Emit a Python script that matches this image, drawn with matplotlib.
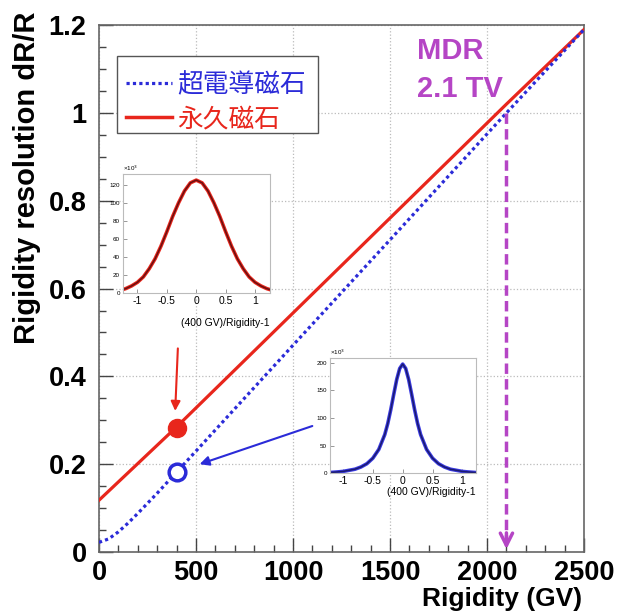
import matplotlib
matplotlib.use("Agg")
import matplotlib.pyplot as plt
from matplotlib.lines import Line2D
from matplotlib.patches import Rectangle
from matplotlib.ticker import MultipleLocator, FormatStrFormatter

# main curves
rig_perm = [0, 400, 2100, 2500]
res_perm = [0.118, 0.285, 1.02, 1.19]
rig_sc = [0, 50, 100, 150, 200, 300, 400, 500, 1000, 1500, 2000, 2100, 2500]
res_sc = [0.022, 0.030, 0.046, 0.066, 0.088, 0.134, 0.182, 0.23, 0.471, 0.711, 0.952, 1.0, 1.19]

point_rig = 400
point_perm = 0.282
point_sc = 0.182
mdr_rig = 2100
mdr_res = 1.0

legend_labels = ["超電導磁石", "永久磁石"]

# inset histograms, counts in units of 10^3
hx_perm = [-1.25, -1.2, -1.1, -1.0, -0.9, -0.8, -0.7, -0.6, -0.5, -0.4, -0.3, -0.2, -0.1, 0.0,
           0.1, 0.2, 0.3, 0.4, 0.5, 0.6, 0.7, 0.8, 0.9, 1.0, 1.1, 1.2, 1.25]
hy_perm = [4, 5, 8, 12, 18, 27, 38, 52, 68, 85, 100, 113, 122, 125,
           122, 113, 100, 85, 68, 52, 38, 27, 18, 12, 8, 5, 4]
hx_sc = [-1.22, -1.1, -1.0, -0.9, -0.8, -0.7, -0.6, -0.5, -0.4, -0.3, -0.25, -0.2, -0.15, -0.1, -0.05, 0.0,
         0.05, 0.1, 0.15, 0.2, 0.25, 0.3, 0.4, 0.5, 0.6, 0.7, 0.8, 0.9, 1.0, 1.1, 1.22]
hy_sc = [1, 2, 3, 5, 7, 11, 17, 27, 43, 70, 90, 115, 143, 170, 190, 198,
         190, 170, 143, 115, 90, 70, 43, 27, 17, 11, 7, 5, 3, 2, 1]

RED = "#e8261c"
BLUE = "#2b2bd8"
PURPLE = "#b545c5"
FONT = "Liberation Sans"
CJK = ["Noto Sans CJK JP", "DejaVu Sans"]

fig = plt.figure(figsize=(6.2, 6.12), dpi=100)
ax = fig.add_axes([0.1597, 0.098, 0.7823, 0.861])

ax.plot(rig_perm, res_perm, color=RED, lw=2.3, zorder=3)
ax.plot(rig_sc, res_sc, color=BLUE, lw=2.3, linestyle=(0, (1, 1)), zorder=3)
ax.plot([point_rig], [point_perm], "o", color=RED, ms=13, zorder=4)
ax.plot([point_rig], [point_sc], "o", mfc="white", mec=BLUE, mew=2.5, ms=12, zorder=4)

# MDR arrow
ax.plot([mdr_rig, mdr_rig], [mdr_res, 0.03], color=PURPLE, lw=2.5, linestyle=(0, (3, 1.5)), zorder=3)
ax.annotate("", xy=(mdr_rig, 0.0), xytext=(mdr_rig, 0.05),
            arrowprops=dict(arrowstyle="->", color=PURPLE, lw=2.5, mutation_scale=22))
ax.text(1640, 1.14, "MDR", color=PURPLE, fontsize=21, fontweight="bold", family=FONT, va="center")
ax.text(1640, 1.055, "2.1 TV", color=PURPLE, fontsize=21, fontweight="bold", family=FONT, va="center")

# pointer arrows
ax.annotate("", xy=(392, 0.315), xytext=(407, 0.47),
            arrowprops=dict(arrowstyle="-|>", color=RED, lw=1.5, mutation_scale=14))
ax.annotate("", xy=(505, 0.198), xytext=(1113, 0.289),
            arrowprops=dict(arrowstyle="-|>", color=BLUE, lw=1.5, mutation_scale=14))

ax.set_xlim(0, 2500)
ax.set_ylim(0, 1.2)
ax.xaxis.set_major_locator(MultipleLocator(500))
ax.xaxis.set_minor_locator(MultipleLocator(100))
ax.yaxis.set_major_locator(MultipleLocator(0.2))
ax.yaxis.set_minor_locator(MultipleLocator(0.05))
ax.yaxis.set_major_formatter(FormatStrFormatter("%g"))
ax.tick_params(which="both", direction="in", color="#444444", width=1)
ax.tick_params(which="major", length=10, pad=9)
ax.tick_params(axis="x", which="major", pad=5.5)
ax.tick_params(which="minor", length=5)
for lab in ax.get_xticklabels() + ax.get_yticklabels():
    lab.set_fontsize(19.5)
    lab.set_fontweight("bold")
    lab.set_family(FONT)
for sp in ax.spines.values():
    sp.set_color("#666666")
    sp.set_linewidth(1.2)
ax.grid(True, which="major", linestyle=":", color="#bbbbbb", lw=0.9)
ax.set_xlabel("Rigidity (GV)", loc="right", fontsize=19, fontweight="bold", family=FONT)
ax.xaxis.label.set_verticalalignment("baseline")
ax.xaxis.set_label_coords(0.997, -0.1025)
ax.set_ylabel("Rigidity resolution dR/R", loc="top", fontsize=21, fontweight="bold", family=FONT)
ax.yaxis.set_label_coords(-0.12, 1.025)

# legend: box drawn separately so the rows sit where the reference has them
ax.add_patch(Rectangle((0.037, 0.795), 0.4144, 0.146, transform=ax.transAxes,
                       facecolor="white", edgecolor="#555555", lw=1.0, zorder=5))
handles = [Line2D([], [], color=BLUE, lw=2.3, linestyle=(0, (1, 1))),
           Line2D([], [], color=RED, lw=2.5)]
leg = ax.legend(handles, legend_labels, loc="upper left", bbox_to_anchor=(0.031, 0.932),
                borderaxespad=0, frameon=False,
                prop={"family": CJK, "size": 18.5}, handlelength=1.8, handletextpad=0.22,
                borderpad=0.45, labelspacing=0.3)
leg.set_zorder(6)
leg.get_texts()[0].set_color(BLUE)
leg.get_texts()[1].set_color(RED)


def draw_inset(rect, hx, hy, ymax, yticks, dark, light, lpad):
    ins = fig.add_axes(rect)
    ins.plot(hx, hy, color=light, lw=2.6)
    ins.plot(hx, hy, color=dark, lw=1.1)
    ins.set_xlim(hx[0], hx[-1])
    ins.set_ylim(0, ymax)
    ins.set_xticks([-1, -0.5, 0, 0.5, 1])
    ins.set_xticklabels(["-1", "-0.5", "0", "0.5", "1"], fontsize=7.5, family=FONT)
    ins.set_yticks(yticks)
    ins.set_yticklabels([str(t) for t in yticks], fontsize=4.5, family=FONT)
    ins.tick_params(direction="in", length=3, width=0.6, color="#888888", pad=2)
    for sp in ins.spines.values():
        sp.set_color("#bbbbbb")
        sp.set_linewidth(0.8)
    ins.text(0.0, 1.01, "×10$^3$", transform=ins.transAxes, fontsize=4.5, family=FONT,
             ha="left", va="bottom")
    ins.set_xlabel("(400 GV)/Rigidity-1", loc="right", fontsize=7.5, family=FONT, labelpad=lpad)
    return ins


draw_inset([0.198, 0.521, 0.237, 0.195], hx_perm, hy_perm, 132,
           [0, 20, 40, 60, 80, 100, 120], "#6a1010", RED, 9)
draw_inset([0.532, 0.227, 0.235, 0.188], hx_sc, hy_sc, 209,
           [0, 50, 100, 150, 200], "#1a1a70", "#3a3ae0", 1)

fig.savefig("out.png", dpi=100)
